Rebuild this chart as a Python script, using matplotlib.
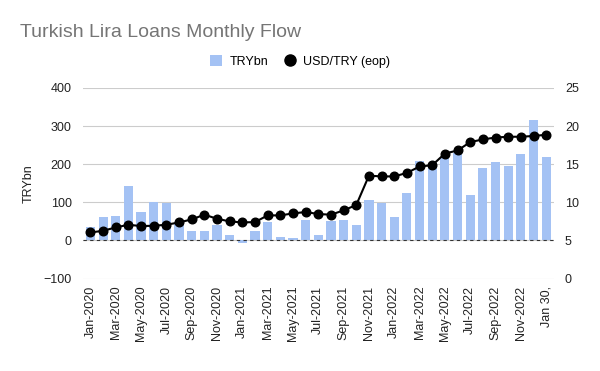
import numpy as np
from matplotlib import pyplot as plt
from matplotlib.lines import Line2D
from matplotlib.patches import Patch

plt.rcParams['font.family'] = ['Liberation Sans', 'DejaVu Sans']

# Monthly data, Jan-2020 .. Jan-2023
months = ['Jan-2020', 'Feb-2020', 'Mar-2020', 'Apr-2020', 'May-2020', 'Jun-2020',
          'Jul-2020', 'Aug-2020', 'Sep-2020', 'Oct-2020', 'Nov-2020', 'Dec-2020',
          'Jan-2021', 'Feb-2021', 'Mar-2021', 'Apr-2021', 'May-2021', 'Jun-2021',
          'Jul-2021', 'Aug-2021', 'Sep-2021', 'Oct-2021', 'Nov-2021', 'Dec-2021',
          'Jan-2022', 'Feb-2022', 'Mar-2022', 'Apr-2022', 'May-2022', 'Jun-2022',
          'Jul-2022', 'Aug-2022', 'Sep-2022', 'Oct-2022', 'Nov-2022', 'Dec-2022',
          'Jan 30,']
try_bn = [36, 61, 63, 142, 74, 100, 97, 45, 26, 24, 40, 14,
          -7, 26, 48, 9, 6, 53, 14, 50, 53, 40, 105, 99,
          61, 124, 208, 199, 219, 230, 118, 189, 205, 196, 228, 316,
          218]
usd_try = [6.05, 6.27, 6.71, 7.06, 6.89, 6.93, 7.06, 7.37, 7.76, 8.38, 7.85, 7.50,
           7.37, 7.41, 8.29, 8.29, 8.55, 8.73, 8.47, 8.38, 8.95, 9.65, 13.5, 13.4,
           13.4, 13.86, 14.7, 14.87, 16.4, 16.8, 17.9, 18.25, 18.5, 18.6, 18.6, 18.7,
           18.86]

bar_color = '#a4c2f4'
grid_color = '#cccccc'
text_color = '#222222'

fig = plt.figure(figsize=(6, 3.71), dpi=100)
ax = fig.add_axes([0.138, 0.249, 0.785, 0.514])
ax2 = ax.twinx()

x = np.arange(len(months))
ax.bar(x, try_bn, width=0.72, color=bar_color, zorder=2)
ax.axhline(0, color='#333333', linestyle=(0, (3, 3)), linewidth=0.8, zorder=3)

ax2.plot(x, usd_try, color='black', linewidth=1.5, marker='o', markersize=6.2, zorder=4)

ax.set_ylim(-100, 400)
ax.set_yticks([-100, 0, 100, 200, 300, 400])
ax2.set_ylim(0, 25)
ax2.set_yticks([0, 5, 10, 15, 20, 25])
ax.set_xlim(-0.6, len(months) - 0.4)

ax.set_xticks(x[::2])
ax.set_xticklabels(months[::2], rotation=90, fontsize=9, color=text_color)
ax.tick_params(axis='y', labelsize=9, labelcolor=text_color, length=0, pad=8)
ax2.tick_params(axis='y', labelsize=9, labelcolor=text_color, length=0, pad=8)
ax.tick_params(axis='x', length=0, pad=5)

ax.grid(axis='y', color=grid_color, linewidth=0.8, zorder=0)
ax.set_axisbelow(True)
for a in (ax, ax2):
    for s in a.spines.values():
        s.set_visible(False)

ax.set_ylabel('TRYbn', fontsize=9, color=text_color, labelpad=6)

# line axis on top of the bars, gridlines stay behind
ax.set_zorder(ax2.get_zorder() - 1)
ax.patch.set_visible(False)
ax2.patch.set_visible(False)

fig.text(0.033, 0.913, 'Turkish Lira Loans Monthly Flow', fontsize=14,
         color='#757575', va='center', ha='left')

handles = [Patch(facecolor=bar_color, edgecolor='none', label='TRYbn'),
           Line2D([], [], color='black', marker='o', linestyle='none',
                  markersize=8, label='USD/TRY (eop)')]
fig.legend(handles=handles, loc='center', bbox_to_anchor=(0.5, 0.835), ncol=2,
           frameon=False, fontsize=9, handlelength=1.0, handleheight=1.0,
           columnspacing=1.2, handletextpad=0.6)

fig.savefig('out.png', dpi=100)
